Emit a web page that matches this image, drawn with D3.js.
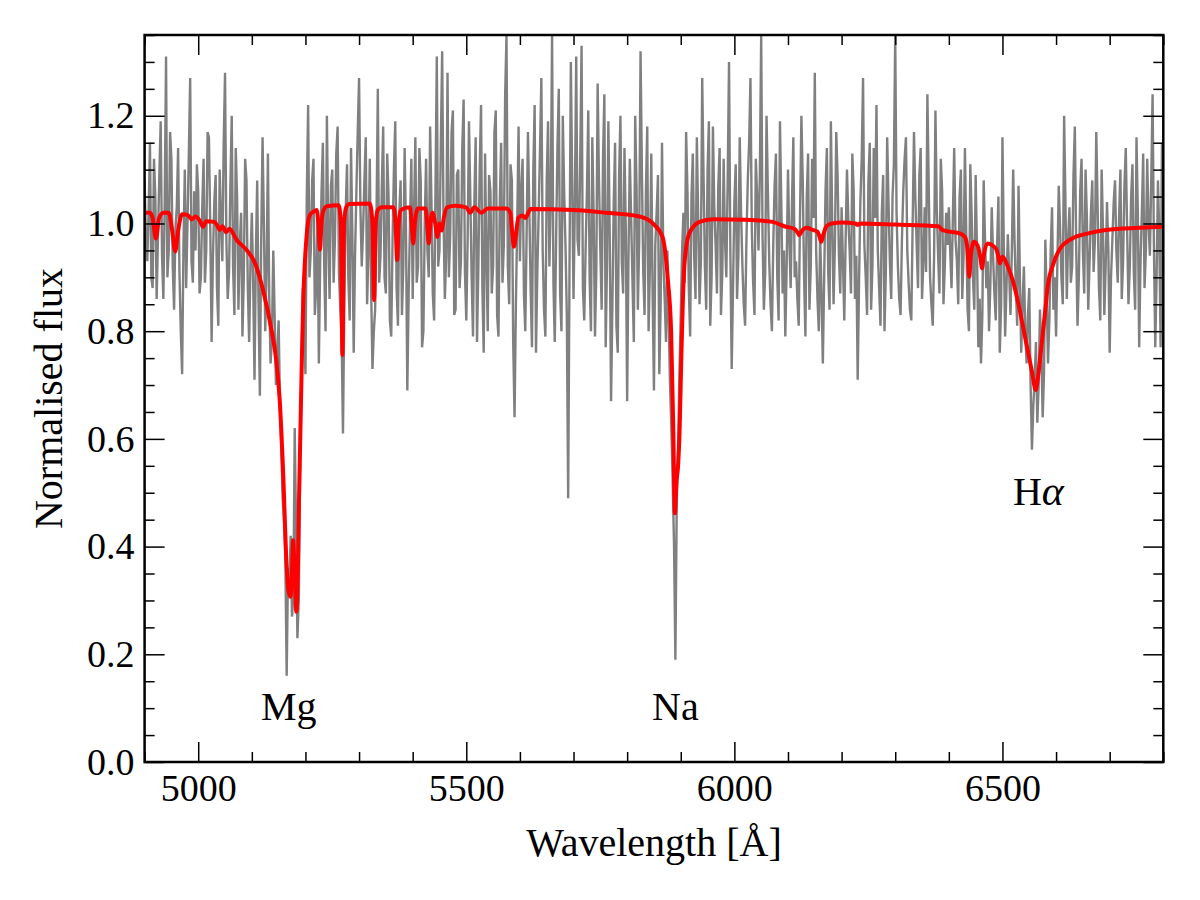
<!DOCTYPE html>
<html><head><meta charset="utf-8">
<script src="https://cdn.jsdelivr.net/npm/d3@7"></script>
<style>
body{margin:0;background:#fff;}
text{font-family:"Liberation Serif","Times New Roman",serif;fill:#000;}
</style>
</head><body><svg id="chart" width="1200" height="900"></svg>
<script>
// ---------- data ----------
const xMajorTicks = [5000, 5500, 6000, 6500];
const yMajorTicks = [0.0, 0.2, 0.4, 0.6, 0.8, 1.0, 1.2];
const xDomain = [4900, 6800];
const yDomain = [0, 1.35];

// observed spectrum (regular grid, 2.5 A sampling from 4900 A; one row = 100 A)
const obsStart = 4900, obsStep = 2.5;
const obsFlux = [
 1.08,0.97,0.93,1.02,1.15,0.90,0.88,1.12,1.05,0.86,0.98,1.09,1.19,0.94,0.86,1.04,1.31,0.90,0.95,1.17,1.12,0.92,0.84,0.99,1.03,1.14,0.91,0.80,0.72,0.96,1.10,0.88,1.00,1.13,1.27,0.93,0.89,1.06,0.95,1.11,
 1.06,0.87,0.90,1.03,1.12,0.89,0.95,1.17,1.16,0.99,0.78,0.94,1.04,1.09,0.88,0.81,1.10,1.01,0.93,1.15,1.28,0.97,0.86,0.91,1.07,1.20,0.92,0.83,1.14,1.05,0.84,0.96,1.02,0.79,0.90,1.12,1.08,0.88,0.78,0.93,
 1.02,0.89,0.71,0.94,1.08,0.85,0.68,0.97,1.16,1.00,0.80,0.91,1.13,0.86,0.74,0.79,0.95,0.83,0.70,0.76,0.82,0.66,0.58,0.49,0.45,0.38,0.16,0.36,0.33,0.42,0.27,0.31,0.62,0.44,0.23,0.30,0.55,0.72,0.88,0.80,
 0.72,1.05,1.22,0.90,0.95,1.08,1.12,0.83,0.88,1.01,0.74,0.93,1.06,1.15,0.92,0.80,1.20,0.98,0.86,1.07,1.10,0.89,0.97,1.13,1.18,0.91,0.84,0.79,0.61,0.85,1.02,1.11,0.90,0.82,1.14,0.98,0.76,0.94,1.06,1.17,
 1.27,1.03,0.92,0.99,1.08,1.16,0.85,0.95,1.12,0.88,0.73,0.80,0.84,1.01,1.25,0.89,0.94,1.07,1.18,0.90,0.87,1.13,1.05,0.82,0.79,0.97,1.10,1.19,0.88,0.81,1.02,1.08,0.83,0.92,1.14,0.99,0.69,0.87,1.00,1.12,
 0.86,1.02,1.16,0.89,0.92,1.14,1.08,0.77,0.80,1.00,1.12,0.95,0.90,1.18,1.04,0.87,0.82,1.06,1.31,0.92,0.95,1.15,1.32,1.01,0.86,0.94,1.28,0.90,0.98,1.17,1.21,0.83,0.84,1.09,1.10,0.88,0.93,1.14,1.23,0.91,
 0.82,0.97,1.19,1.05,0.90,0.79,1.04,1.16,0.78,0.92,1.10,1.22,0.88,0.76,1.13,0.94,0.80,1.09,1.06,0.87,0.92,1.17,1.21,0.83,0.79,1.04,1.15,0.89,0.96,1.24,1.35,0.92,0.85,1.11,1.08,0.78,0.64,0.85,1.00,1.18,
 0.93,1.06,1.12,0.87,0.80,0.98,1.17,1.03,0.88,0.77,1.10,1.22,0.76,0.91,1.02,1.14,1.27,0.95,0.84,0.79,1.08,1.19,0.92,1.04,1.35,0.89,0.78,0.97,1.14,1.25,0.87,0.80,1.20,1.06,0.96,0.83,0.49,0.92,1.30,1.08,
 0.86,1.04,1.31,0.97,0.94,1.12,1.33,0.88,0.82,0.95,1.06,1.21,0.90,0.80,1.16,1.02,0.79,0.91,1.26,1.08,0.95,0.84,1.12,1.24,0.77,0.93,1.19,0.98,0.67,0.85,1.04,1.15,0.81,0.76,1.09,1.20,0.93,0.87,1.14,0.99,
 0.67,0.94,1.12,1.01,0.89,0.78,1.20,1.07,0.84,0.97,1.32,1.10,0.91,0.83,1.06,1.18,0.80,0.92,1.13,0.87,0.69,0.96,1.02,1.09,0.72,0.85,1.15,0.93,0.86,0.78,0.95,0.82,0.70,0.62,0.52,0.40,0.19,0.48,0.58,0.72,
 0.83,0.95,1.02,0.89,1.17,1.06,0.88,0.79,1.05,1.13,0.94,0.86,1.16,1.01,0.85,0.93,1.27,1.09,0.92,0.84,1.10,1.19,0.81,0.90,1.18,1.03,0.96,0.87,1.07,1.14,0.83,0.91,1.12,0.97,0.90,1.08,1.30,0.95,0.73,0.88,
 1.04,1.11,0.86,0.94,1.16,1.02,0.92,0.85,0.81,0.97,1.08,1.15,1.27,0.99,0.89,0.83,1.12,1.05,0.95,1.09,1.35,0.98,0.84,0.91,1.20,1.06,0.93,0.85,0.80,0.96,1.07,1.13,0.90,0.82,1.19,1.04,0.87,0.95,0.79,0.92,
 1.10,0.97,0.88,1.04,1.16,0.90,0.93,0.86,0.81,1.02,1.20,1.08,0.90,0.79,1.05,1.13,0.84,0.92,1.12,1.01,1.28,0.95,0.86,0.80,0.98,0.87,0.74,0.90,1.06,1.14,0.91,0.84,1.19,1.00,0.85,0.96,1.17,1.09,0.94,0.87,
 1.03,0.93,0.82,0.97,1.10,1.01,0.95,0.87,1.13,1.06,0.86,0.94,0.71,0.89,1.04,1.12,1.27,0.96,0.90,0.83,1.08,1.15,0.84,0.92,1.14,1.01,1.22,0.95,0.88,0.81,1.02,1.09,0.80,0.91,1.16,1.04,0.93,0.86,1.05,1.11,
 1.35,1.02,0.92,0.86,0.83,0.97,1.06,1.12,1.16,0.95,0.89,0.84,0.82,1.00,1.17,1.05,0.96,0.88,1.09,1.14,0.86,0.93,1.03,0.91,1.24,1.07,0.90,0.85,0.81,0.94,1.21,1.03,0.94,0.87,1.12,1.06,0.85,0.92,1.02,0.96,
 1.03,0.95,0.88,1.01,1.14,0.97,0.93,0.85,1.05,1.10,0.86,0.94,1.14,0.98,0.84,0.80,1.11,1.02,0.90,0.84,1.09,0.95,0.77,0.86,0.74,0.83,1.08,0.97,0.88,0.93,0.80,0.89,1.03,0.94,0.87,0.82,0.96,1.05,0.76,0.85,
 1.16,0.96,0.79,0.88,0.98,0.91,0.83,0.95,1.10,0.97,0.88,0.81,1.07,0.90,0.76,0.85,0.92,0.80,0.74,0.83,0.88,0.70,0.58,0.66,0.71,0.78,0.63,0.70,0.84,0.77,0.64,0.72,0.97,0.86,0.74,0.82,0.95,1.03,0.84,0.90,
 0.79,0.93,1.07,0.99,0.90,0.85,1.20,1.04,0.86,0.97,1.03,0.89,0.92,1.09,1.18,0.96,0.81,0.90,1.06,1.12,0.95,0.87,1.10,1.01,0.84,0.93,1.02,1.08,0.91,0.97,1.17,1.03,0.88,0.82,1.10,0.99,0.83,0.92,1.04,0.95,
 0.76,0.90,0.97,1.04,1.08,0.95,0.89,1.01,1.10,0.86,0.93,1.07,1.14,0.99,0.85,0.92,1.05,1.11,0.91,0.84,1.16,1.02,0.77,0.93,1.02,1.13,0.88,0.95,1.12,1.00,0.94,1.08,1.24,0.96,0.77,0.90,1.08,0.98,0.77,1.15,
 0.98
];

// best-fit model spectrum
const modelWave = [
 4900,4910,4915,4921,4927,4935,4945,4951,4957,4963,4970,4980,4988,4995,5003,5009,5015,5030,5036,5040,
 5045,5052,5058,5072,5090,5106,5121,5137,5145,5152,5158,5165,5168,5172,5175,5177,5180,5183,5186,5188,
 5193,5196,5202,5208,5215,5221,5224,5227,5230,5233,5240,5262,5266,5269,5272,5276,5282,5320,5325,5328,
 5331,5335,5342,5364,5368,5371,5374,5378,5395,5398,5401,5404,5410,5424,5427,5430,5433,5437,5442,5446,
 5450,5454,5458,5464,5480,5500,5507,5515,5528,5540,5575,5582,5586,5589,5592,5597,5605,5610,5620,5700,
 5760,5823,5848,5866,5876,5882,5886,5889,5892,5895,5898,5901,5904,5907,5916,5935,5960,6020,6071,6096,
 6112,6118,6121,6125,6135,6146,6155,6159,6162,6166,6172,6182,6200,6226,6230,6234,6300,6380,6388,6395,
 6419,6430,6435,6438,6441,6447,6455,6459,6462,6465,6472,6488,6492,6495,6500,6510,6519,6531,6540,6547,
 6555,6562,6567,6572,6581,6584,6595,6606,6630,6662,6693,6755,6800
];
const modelFlux = [
 1.020,1.020,1.010,0.972,1.010,1.020,1.020,0.990,0.948,0.990,1.017,1.016,1.008,1.013,1.005,0.994,1.004,1.003,0.995,0.988,
 0.995,0.984,0.990,0.969,0.951,0.926,0.876,0.800,0.750,0.672,0.548,0.363,0.320,0.307,0.360,0.412,0.350,0.279,0.360,0.487,
 0.734,0.858,0.975,1.015,1.022,1.025,1.000,0.951,1.000,1.022,1.032,1.034,1.000,0.756,1.000,1.030,1.036,1.037,1.000,0.858,
 1.000,1.025,1.030,1.030,1.000,0.932,1.000,1.025,1.030,1.000,0.963,1.000,1.028,1.028,1.000,0.963,1.000,1.020,1.000,0.975,
 1.000,0.987,1.010,1.030,1.033,1.030,1.020,1.030,1.020,1.028,1.028,1.020,0.980,0.957,0.975,1.010,1.015,1.010,1.027,1.025,
 1.020,1.013,1.000,0.975,0.895,0.800,0.620,0.462,0.520,0.550,0.620,0.750,0.858,0.926,0.982,1.003,1.008,1.007,1.003,0.994,
 0.990,0.983,0.978,0.985,0.992,0.988,0.985,0.975,0.966,0.980,0.995,1.000,1.002,1.000,0.997,1.000,0.998,0.995,0.988,0.986,
 0.982,0.975,0.950,0.901,0.940,0.966,0.955,0.935,0.917,0.940,0.963,0.953,0.940,0.926,0.938,0.920,0.895,0.845,0.800,0.765,
 0.725,0.691,0.720,0.765,0.850,0.880,0.925,0.951,0.972,0.982,0.988,0.992,0.994
];

const lineNames = ["Mg", "Na", "H"];
const lineWave = [5169, 5890, 6567];
const lineFlux = [0.078, 0.078, 0.477];

// ---------- layout ----------
const pLeft = 144.6, pRight = 1163.3, pTop = 35, pBottom = 762;
const svg = d3.select("#chart");

const x = d3.scaleLinear().domain(xDomain).range([pLeft, pRight]);
const y = d3.scaleLinear().domain(yDomain).range([pBottom, pTop]);

svg.append("defs").append("clipPath").attr("id", "clip")
  .append("rect").attr("x", pLeft).attr("y", pTop).attr("width", pRight - pLeft).attr("height", pBottom - pTop);

const obs = obsFlux.map((f, i) => [obsStart + i * obsStep, f]);
const model = modelWave.map((w, i) => [w, modelFlux[i]]);

const g = svg.append("g").attr("clip-path", "url(#clip)");
g.append("path").datum(obs)
  .attr("fill", "none").attr("stroke", "#808080").attr("stroke-width", 2.4)
  .attr("stroke-linejoin", "miter")
  .attr("d", d3.line().x(d => x(d[0])).y(d => y(d[1])));
g.append("path").datum(model)
  .attr("fill", "none").attr("stroke", "#ff0000").attr("stroke-width", 4)
  .attr("stroke-linejoin", "round")
  .attr("d", d3.line().curve(d3.curveMonotoneX).x(d => x(d[0])).y(d => y(d[1])));

// ---------- axes ----------
const xMinor = d3.range(4900, 6801, 100).filter(v => v % 500 !== 0);
const yMinorAll = d3.range(0, 28).map(i => +(i * 0.05).toFixed(2))
  .filter(v => Math.abs(v / 0.2 - Math.round(v / 0.2)) > 1e-6 && v <= 1.35);

function styleAxis(sel) {
  sel.select(".domain").remove();
  sel.selectAll(".tick line").attr("stroke", "#000").attr("stroke-width", 1.5);
}
const tickFont = 38;

// bottom
svg.append("g").attr("transform", `translate(0,${pBottom})`)
  .call(d3.axisBottom(x).tickValues(xMajorTicks).tickSize(-20).tickPadding(12).tickFormat(d3.format("d")))
  .call(styleAxis)
  .call(s => s.selectAll("text").attr("font-size", tickFont).attr("font-family", "Liberation Serif, serif").attr("fill", "#000"));
svg.append("g").attr("transform", `translate(0,${pBottom})`)
  .call(d3.axisBottom(x).tickValues(xMinor).tickSize(-10).tickFormat(""))
  .call(styleAxis);
// top
svg.append("g").attr("transform", `translate(0,${pTop})`)
  .call(d3.axisTop(x).tickValues(xMajorTicks).tickSize(-20).tickFormat(""))
  .call(styleAxis);
svg.append("g").attr("transform", `translate(0,${pTop})`)
  .call(d3.axisTop(x).tickValues(xMinor).tickSize(-10).tickFormat(""))
  .call(styleAxis);
// left
svg.append("g").attr("transform", `translate(${pLeft},0)`)
  .call(d3.axisLeft(y).tickValues(yMajorTicks).tickSize(-20).tickPadding(10).tickFormat(d3.format(".1f")))
  .call(styleAxis)
  .call(s => s.selectAll("text").attr("font-size", tickFont).attr("font-family", "Liberation Serif, serif").attr("fill", "#000"));
svg.append("g").attr("transform", `translate(${pLeft},0)`)
  .call(d3.axisLeft(y).tickValues(yMinorAll).tickSize(-10).tickFormat(""))
  .call(styleAxis);
// right
svg.append("g").attr("transform", `translate(${pRight},0)`)
  .call(d3.axisRight(y).tickValues(yMajorTicks).tickSize(-20).tickFormat(""))
  .call(styleAxis);
svg.append("g").attr("transform", `translate(${pRight},0)`)
  .call(d3.axisRight(y).tickValues(yMinorAll).tickSize(-10).tickFormat(""))
  .call(styleAxis);

// frame
svg.append("rect").attr("x", pLeft).attr("y", pTop).attr("width", pRight - pLeft).attr("height", pBottom - pTop)
  .attr("fill", "none").attr("stroke", "#000").attr("stroke-width", 2.5);

// axis titles
svg.append("text").attr("x", (pLeft + pRight) / 2).attr("y", 856)
  .attr("text-anchor", "middle").attr("font-size", 40).text("Wavelength [Å]");
svg.append("text").attr("transform", `translate(62,${(pTop + pBottom) / 2}) rotate(-90)`)
  .attr("text-anchor", "middle").attr("font-size", 40).text("Normalised flux");

// line labels
lineNames.forEach((n, i) => {
  const t = svg.append("text").attr("x", x(lineWave[i])).attr("y", y(lineFlux[i]))
    .attr("text-anchor", "middle").attr("font-size", 40).text(n);
  if (n === "H") t.append("tspan").attr("font-style", "italic").attr("font-size", 42).text("α");
});
</script>
</body></html>
